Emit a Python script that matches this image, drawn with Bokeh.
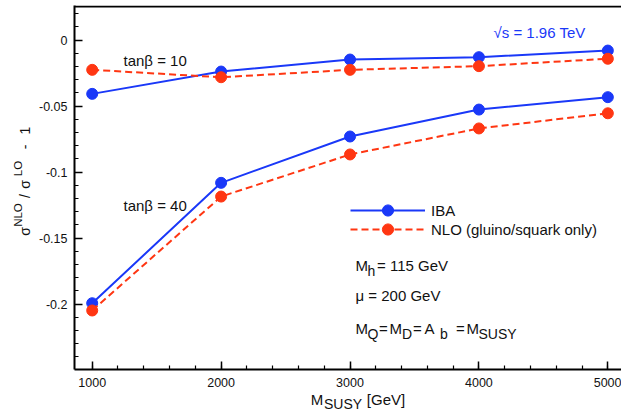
import numpy as np
from bokeh.plotting import figure
from bokeh.models import (Label, Legend, LegendItem, FixedTicker, Span, Range1d,
                          LinearAxis)
from bokeh.embed import file_html
from bokeh.resources import INLINE

# ---------------- data ----------------
m_susy = [1000, 2000, 3000, 4000, 5000]
iba_tb10 = [-0.0408, -0.0239, -0.0148, -0.0130, -0.0080]
nlo_tb10 = [-0.0226, -0.0282, -0.0226, -0.0198, -0.0142]
iba_tb40 = [-0.1994, -0.1082, -0.0731, -0.0527, -0.0433]
nlo_tb40 = [-0.2049, -0.1186, -0.0867, -0.0670, -0.0555]

x_ticks = [1000, 2000, 3000, 4000, 5000]
x_tick_labels = ["1000", "2000", "3000", "4000", "5000"]
y_ticks = [0, -0.05, -0.1, -0.15, -0.2]
y_tick_labels = ["0", "-0.05", "-0.1", "-0.15", "-0.2"]

# axis titles, split into normal / raised (or lowered) pieces
x_title_main = ["M", "[GeV]"]
x_title_sub = ["SUSY"]
y_title_main = ["\u03c3", "/", "\u03c3", "-", "1"]
y_title_sup = ["NLO", "LO"]

# ---------------- style ----------------
BLUE = "#1a38f8"
RED = "#ff3612"
FONT = "Liberation Sans"
TXT = "#111111"

W, H = 621, 416
BL, BR, BT, BB = 74, 0, 5, 47
FX0, FY0 = BL, BT
FW, FH = W - BL - BR, H - BT - BB
FBOT = FY0 + FH

x0, x1 = 862.7, 5106.0
y0, y1 = -0.2496, 0.02614


def X(px):
    return x0 + (px - FX0) / FW * (x1 - x0)


def Y(py):
    return y1 - (py - FY0) / FH * (y1 - y0)


p = figure(width=W, height=H, x_range=Range1d(x0, x1), y_range=Range1d(y0, y1),
           output_backend="svg", toolbar_location=None,
           min_border_left=BL, min_border_right=BR, min_border_top=BT, min_border_bottom=BB)
p.xgrid.visible = False
p.ygrid.visible = False
p.outline_line_color = None
p.background_fill_color = "white"
p.border_fill_color = "white"

for ax in (p.xaxis[0], p.yaxis[0]):
    ax.axis_line_width = 2
    ax.axis_line_color = "black"
    ax.major_tick_in = 8
    ax.major_tick_out = 0
    ax.minor_tick_in = 4
    ax.minor_tick_out = 0
    ax.major_tick_line_width = 1.5
    ax.minor_tick_line_width = 1.2
    ax.major_tick_line_color = "black"
    ax.minor_tick_line_color = "black"
    ax.major_label_text_font = FONT
    ax.major_label_text_font_size = "12.5px"
    ax.major_label_text_color = TXT

p.xaxis.ticker = FixedTicker(ticks=x_ticks, minor_ticks=list(range(1000, 5001, 200)))
p.xaxis.major_label_overrides = dict(zip(x_ticks, x_tick_labels))
p.xaxis.major_label_standoff = 8
p.yaxis.ticker = FixedTicker(ticks=y_ticks,
                             minor_ticks=[round(v, 2) for v in np.arange(-0.24, 0.0201, 0.01)])
p.yaxis.major_label_overrides = dict(zip(y_ticks, y_tick_labels))
p.yaxis.major_label_standoff = 7


def title_axis(side, texts, centers_px, size, standoff, orientation):
    """An axis without line/ticks whose tick labels are pieces of an axis title."""
    conv = X if side == "below" else Y
    locs = [conv(c) for c in centers_px]
    ax = LinearAxis(ticker=FixedTicker(ticks=locs, minor_ticks=[]),
                    major_label_overrides=dict(zip(locs, texts)),
                    axis_line_color=None, major_tick_line_color=None,
                    minor_tick_line_color=None, major_tick_in=0, major_tick_out=0,
                    minor_tick_in=0, minor_tick_out=0,
                    major_label_standoff=standoff,
                    major_label_orientation=orientation,
                    major_label_text_font=FONT, major_label_text_color=TXT,
                    major_label_text_font_size=f"{size}px")
    p.add_layout(ax, side)


# x title: "M_SUSY [GeV]"
title_axis("below", x_title_main, [316.5, 385.5], 15, 1, "horizontal")
title_axis("below", x_title_sub, [342.5], 14, -15, "horizontal")
# y title: "sigma^NLO / sigma^LO - 1" (reads bottom to top)
title_axis("left", y_title_main, [231, 195.5, 184, 146.5, 130], 14, 4, "vertical")
title_axis("left", y_title_sup, [214.5, 168], 11.5, -10, "vertical")

# top frame border
p.add_layout(Span(location=Y(6), dimension="width", line_color="black", line_width=2))

# ---------------- series ----------------
lb10 = p.line(m_susy, iba_tb10, line_color=BLUE, line_width=2)
sb10 = p.scatter(m_susy, iba_tb10, size=11, fill_color=BLUE, line_color=BLUE)
lb40 = p.line(m_susy, iba_tb40, line_color=BLUE, line_width=2)
sb40 = p.scatter(m_susy, iba_tb40, size=11, fill_color=BLUE, line_color=BLUE)
lr10 = p.line(m_susy, nlo_tb10, line_color=RED, line_width=2, line_dash="7 4")
sr10 = p.scatter(m_susy, nlo_tb10, size=11, fill_color=RED, line_color=RED)
lr40 = p.line(m_susy, nlo_tb40, line_color=RED, line_width=2, line_dash="7 4")
sr40 = p.scatter(m_susy, nlo_tb40, size=11, fill_color=RED, line_color=RED)


def make_legend(label, rends, loc):
    leg = Legend(items=[LegendItem(label=label, renderers=rends)], location=loc,
                 glyph_width=75, glyph_height=28, label_height=28, label_standoff=6,
                 padding=0, margin=0, spacing=0, border_line_color=None,
                 background_fill_alpha=0, label_text_font=FONT,
                 label_text_font_size="15px", label_text_color=TXT)
    p.add_layout(leg)


make_legend("IBA", [lb40, sb40], (350 - FX0, FBOT - 224))
make_legend("NLO (gluino/squark only)", [lr40, sr40], (350 - FX0, FBOT - 243))


# ---------------- text ----------------
def put(text, px, py, size, color=TXT):
    p.add_layout(Label(x=X(px), y=Y(py), text=text, text_font=FONT,
                       text_font_size=f"{size}px", text_color=color,
                       text_align="left", text_baseline="alphabetic"))


put("tan\u03b2 = 10", 123, 60, 15)
put("tan\u03b2 = 40", 123, 205, 15)
put("\u221as = 1.96 TeV", 493, 32, 15, color=BLUE)

put("M", 355, 265, 15)
put("h", 367, 270, 14)
put("= 115 GeV", 376.5, 265, 15)

put("\u03bc = 200 GeV", 355, 295, 15)

put("M", 355, 328, 15)
put("Q", 367, 333, 14)
put("=", 378.5, 328, 15)
put("M", 389, 328, 15)
put("D", 401.5, 333, 14)
put("=", 412.5, 328, 15)
put("A", 424, 328, 15)
put("b", 439.5, 333, 14)
put("=", 455.5, 328, 15)
put("M", 466, 328, 15)
put("SUSY", 478, 333, 14)

open("out.html", "w").write(file_html(p, INLINE))
